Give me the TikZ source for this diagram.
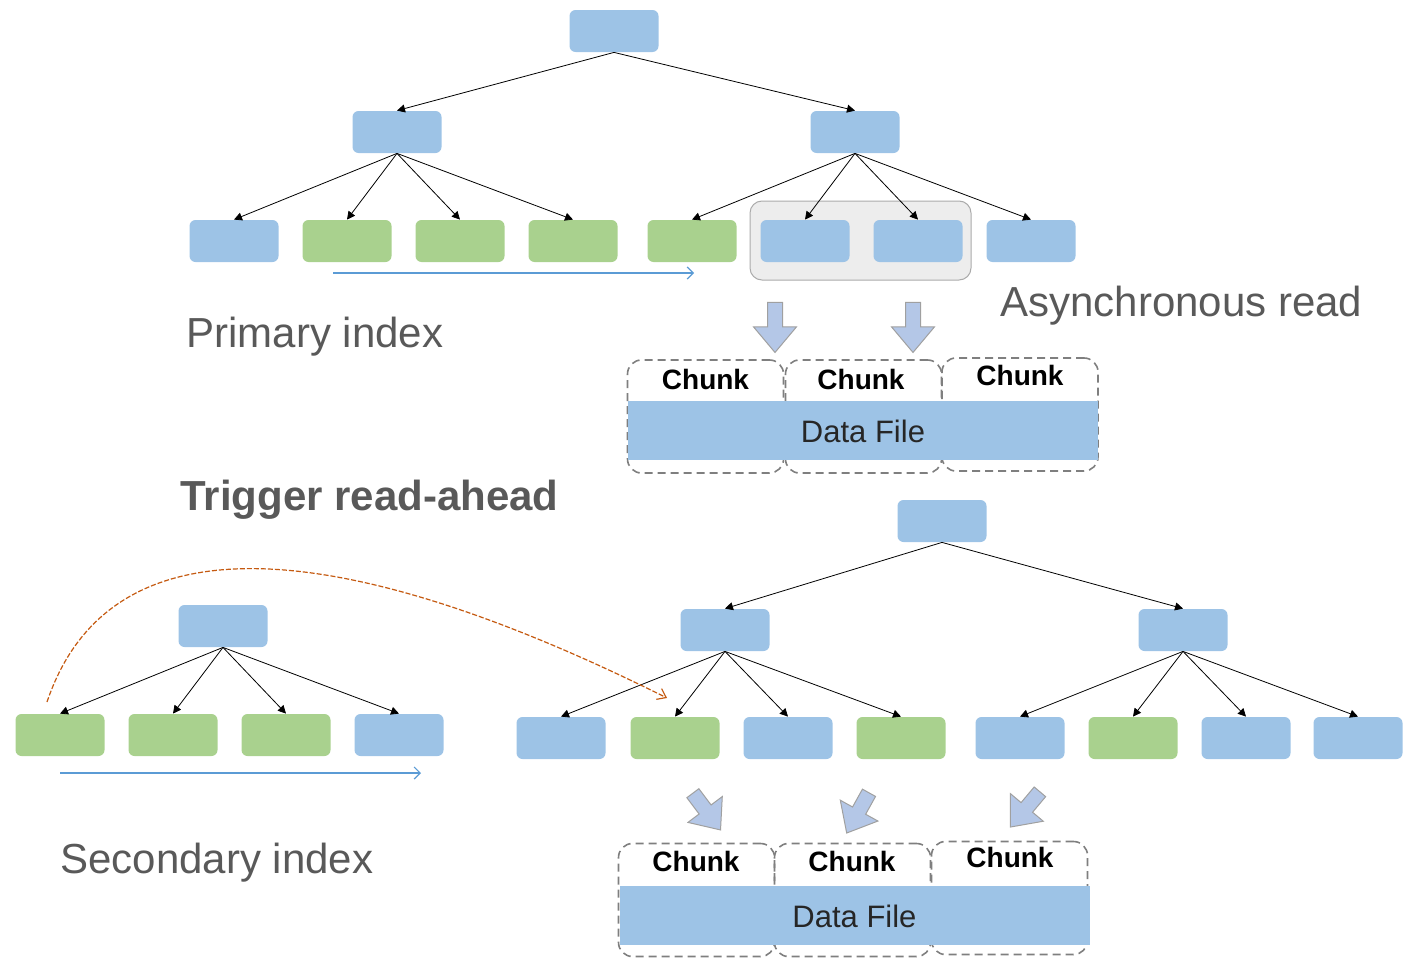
\documentclass[tikz,border=0pt]{standalone}
\usepackage{fontspec}
\setmainfont{Liberation Sans}
\usetikzlibrary{arrows.meta,shapes.arrows,positioning}
\definecolor{keyblue}{HTML}{9DC3E6}
\definecolor{keygreen}{HTML}{A9D18E}
\definecolor{arrowfill}{HTML}{B4C7E7}
\definecolor{arrowline}{HTML}{A0A0A0}
\definecolor{groupfill}{HTML}{EDEDED}
\definecolor{groupline}{HTML}{ABABAB}
\definecolor{chunkline}{HTML}{7F7F7F}
\definecolor{labelgray}{HTML}{595959}
\definecolor{scanblue}{HTML}{5B9BD5}
\definecolor{aheadorange}{HTML}{C55A11}

\begin{document}
\begin{tikzpicture}[x=0.5pt,y=-0.5pt,
  key/.style={rectangle,rounded corners=3pt,minimum width=44.5pt,minimum height=21pt,inner sep=0pt},
  leafb/.style={key,fill=keyblue},
  leafg/.style={key,fill=keygreen},
  edge/.style={-{Triangle[length=4pt,width=4pt]},line width=0.4pt},
  scan/.style={draw=scanblue,line width=0.6pt,-{Straight Barb[length=3pt,width=6pt]}},
  readahead/.style={draw=aheadorange,dash pattern=on 2.5pt off 1pt,line width=0.6pt,-{Straight Barb[length=4pt,width=6pt]}},
  blockarrow/.style={single arrow,fill=arrowfill,draw=arrowline,line width=0.5pt,inner sep=3.5pt,
    minimum height=25pt,single arrow head extend=7pt,single arrow tip angle=80},
  chunkbox/.style={draw=chunkline,line width=0.8pt,dash pattern=on 4pt off 2.5pt,rounded corners=7pt,
    minimum width=78pt,minimum height=56.5pt,inner sep=0pt},
  chunktext/.style={font=\fontsize{14}{16}\selectfont\bfseries,inner sep=0pt,anchor=base},
  databar/.style={fill=keyblue,minimum width=235pt,minimum height=29.5pt,inner sep=0pt},
  datatext/.style={font=\fontsize{15.5}{18}\selectfont,text=black!85,inner sep=0pt,anchor=base},
  bigtext/.style={font=\fontsize{21}{25}\selectfont,text=labelgray,inner sep=0pt,anchor=base west}]
\useasboundingbox (0,0) rectangle (1403,958);

% primary index tree
\node[key,fill=groupfill,draw=groupline,line width=0.5pt,rounded corners=6pt,
  minimum width=110.5pt,minimum height=39.5pt] (grp) at (860.5,240.5) {};
\node[leafb] (troot) at (614,31) {};
\node[leafb] (ta) at (397,132) {};
\node[leafb] (tb) at (855,132) {};
\foreach \c/\x [count=\i] in {b/234,g/347,g/460,g/573,g/692,b/805,b/918,b/1031}
  \node[leaf\c] (tl\i) at (\x,241) {};
\draw[edge] (troot.south) -- (ta.north);
\draw[edge] (troot.south) -- (tb.north);
\foreach \i in {1,...,4} \draw[edge] (ta.south) -- (tl\i.north);
\foreach \i in {5,...,8} \draw[edge] (tb.south) -- (tl\i.north);
\coordinate (ps) at (333,273);
\coordinate (pe) at (694,273);
\draw[scan] (ps) -- (pe);

% asynchronous read
\node[blockarrow,rotate=-90] (ar1) at (775,323) {};
\node[blockarrow,rotate=-90] (ar2) at (913,323) {};
\node[chunkbox] (c1) at (705.5,416.5) {};
\node[chunkbox] (c2) at (863.5,416.5) {};
\node[chunkbox] (c3) at (1020,414.5) {};
\node[databar] (df1) at (863,430.5) {};
\node[chunktext] (ct1) at (705.5,389) {Chunk};
\node[chunktext] (ct2) at (861,389) {Chunk};
\node[chunktext] (ct3) at (1020,385.5) {Chunk};
\node[datatext] (dt1) at (863,442) {Data File};

\node[bigtext] (prim) at (186,347) {Primary index};
\node[bigtext] (async) at (1000,316) {Asynchronous read};
\node[bigtext,font=\fontsize{21}{25}\selectfont\bfseries] (trig) at (180,510) {Trigger read-ahead};
\node[bigtext] (sec) at (60,873) {Secondary index};

% secondary index tree
\node[leafb] (sroot) at (223,626) {};
\foreach \c/\x [count=\i] in {g/60,g/173,g/286,b/399}
  \node[leaf\c] (sl\i) at (\x,735) {};
\foreach \i in {1,...,4} \draw[edge] (sroot.south) -- (sl\i.north);
\coordinate (ss) at (60,773);
\coordinate (se) at (421,773);
\draw[scan] (ss) -- (se);

% primary tree reached by read-ahead
\node[leafb] (broot) at (942,521) {};
\node[leafb] (ba) at (725,630) {};
\node[leafb] (bb) at (1183,630) {};
\foreach \c/\x [count=\i] in {b/561,g/675,b/788,g/901,b/1020,g/1133,b/1246,b/1358}
  \node[leaf\c] (bl\i) at (\x,738) {};
\draw[edge] (broot.south) -- (ba.north);
\draw[edge] (broot.south) -- (bb.north);
\foreach \i in {1,...,4} \draw[edge] (ba.south) -- (bl\i.north);
\foreach \i in {5,...,8} \draw[edge] (bb.south) -- (bl\i.north);

\coordinate (rs) at (47,702);
\coordinate (re) at (667,698);
\draw[readahead] (rs) .. controls (110,515) and (340,535) .. (re);

\node[blockarrow,rotate=-53,minimum height=23pt] (ar3) at (704,808) {};
\node[blockarrow,rotate=-119,minimum height=23pt] (ar4) at (860,809) {};
\node[blockarrow,rotate=-130,minimum height=23pt] (ar5) at (1028,806) {};
\node[chunkbox] (c4) at (696.5,900) {};
\node[chunkbox] (c5) at (852.5,900) {};
\node[chunkbox] (c6) at (1009.5,898) {};
\node[databar] (df2) at (854.5,915.5) {};
\node[chunktext] (ct4) at (696,871) {Chunk};
\node[chunktext] (ct5) at (852,871) {Chunk};
\node[chunktext] (ct6) at (1010,867.5) {Chunk};
\node[datatext] (dt2) at (854.5,927) {Data File};
\end{tikzpicture}
\end{document}
